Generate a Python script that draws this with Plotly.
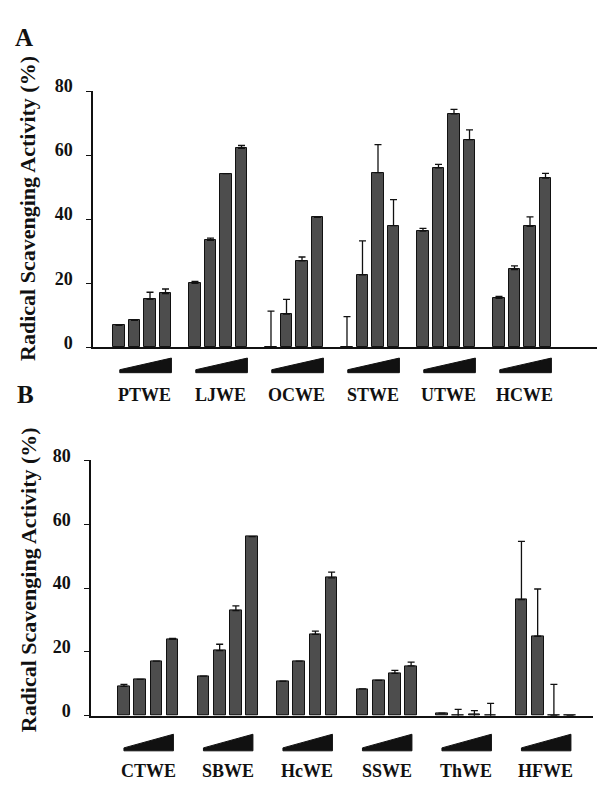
import plotly.graph_objects as go

# ---------------- data ----------------
groups_a = ["PTWE", "LJWE", "OCWE", "STWE", "UTWE", "HCWE"]
values_a = [
    [6.9, 8.4, 15.0, 16.8],
    [20.0, 33.4, 54.2, 62.1],
    [0.0, 10.4, 27.0, 40.6],
    [0.0, 22.6, 54.5, 38.0],
    [36.3, 56.0, 72.9, 64.8],
    [15.3, 24.3, 37.8, 52.8],
]
err_a = [
    [0.0, 0.0, 2.2, 1.4],
    [0.6, 0.7, 0.0, 0.9],
    [11.3, 4.6, 1.2, 0.0],
    [9.6, 10.6, 8.8, 8.1],
    [0.8, 1.1, 1.4, 3.1],
    [0.6, 1.1, 2.9, 1.5],
]
groups_b = ["CTWE", "SBWE", "HcWE", "SSWE", "ThWE", "HFWE"]
values_b = [
    [9.2, 11.4, 17.1, 23.9],
    [12.4, 20.4, 32.9, 56.1],
    [10.8, 17.1, 25.5, 43.2],
    [8.4, 11.1, 13.3, 15.6],
    [0.8, 0.0, 0.3, 0.0],
    [36.4, 24.9, 0.0, 0.0],
]
err_b = [
    [0.6, 0.0, 0.0, 0.3],
    [0.0, 2.0, 1.5, 0.0],
    [0.0, 0.0, 1.0, 1.8],
    [0.0, 0.0, 0.9, 1.2],
    [0.0, 2.0, 1.3, 3.9],
    [18.2, 14.8, 9.8, 0.0],
]
err_b_minus = [
    [0, 0, 0, 0],
    [0, 0, 0, 0],
    [0, 0, 0, 0],
    [0, 0, 0, 0],
    [0, 1.2, 0.6, 1.2],
    [0, 0, 0, 0],
]
yticks = [0, 20, 40, 60, 80]
y_title = "Radical Scavenging Activity (%)"

# ---------------- layout constants ----------------
W, H = 597, 787
PERIOD = 4.9
BAR_COLOR = "#4d4d4d"
FONT = "Liberation Serif, Times New Roman, serif"
INK = "#111111"


def px_x(p):
    return p / W


def px_y(p):
    return 1 - p / H


fig = go.Figure()


def add_panel(groups, vals, errs, errs_minus, xa, ya):
    xs, ys, ep, em = [], [], [], []
    for g, (v, e) in enumerate(zip(vals, errs)):
        for i in range(4):
            xs.append(g * PERIOD + i)
            ys.append(v[i])
            ep.append(e[i])
            em.append(errs_minus[g][i] if errs_minus else 0)
    fig.add_trace(go.Bar(
        x=xs, y=ys, width=0.72, xaxis=xa, yaxis=ya,
        marker=dict(color=BAR_COLOR, line=dict(color=INK, width=1)),
        error_y=dict(type="data", symmetric=False, array=ep, arrayminus=em,
                     color=INK, thickness=1.3, width=3.5),
        showlegend=False, hoverinfo="skip",
    ))


add_panel(groups_a, values_a, err_a, None, "x", "y")
add_panel(groups_b, values_b, err_b, err_b_minus, "x2", "y2")

axis_common = dict(showgrid=False, zeroline=False, showline=True,
                   linecolor=INK, linewidth=1.5)
yaxis_common = dict(axis_common, range=[0, 80], tickvals=yticks,
                    ticktext=[f"<b>{t}</b>" for t in yticks],
                    ticks="outside", ticklen=5, tickwidth=1.2, tickcolor=INK,
                    ticklabelstandoff=10, ticklabelshift=-5,
                    tickfont=dict(family=FONT, size=18, color=INK, weight="bold"))

fig.update_layout(
    width=W, height=H, margin=dict(l=0, r=0, t=0, b=0),
    paper_bgcolor="white", plot_bgcolor="white", bargap=0,
    xaxis=dict(axis_common, domain=[px_x(93), px_x(597)],
               range=[-1.676, 30.82], showticklabels=False, ticks="", anchor="y"),
    yaxis=dict(yaxis_common, domain=[px_y(341), px_y(78)], anchor="x"),
    xaxis2=dict(axis_common, domain=[px_x(91), px_x(593)],
                range=[-2.03, 28.91], showticklabels=False, ticks="", anchor="y2"),
    yaxis2=dict(yaxis_common, domain=[px_y(719), px_y(457)], anchor="x2"),
)

shapes, annotations = [], []


def add_wedges_labels(groups, xref, x0off, x1off, ybot, ytop, ytip, ylab, lab_off):
    for g, name in enumerate(groups):
        x0 = g * PERIOD + x0off
        x1 = g * PERIOD + x1off
        shapes.append(dict(
            type="path", xref=xref, yref="paper",
            path=f"M {x0},{px_y(ybot)} L {x1},{px_y(ybot)} L {x1},{px_y(ytop)} L {x0},{px_y(ytip)} Z",
            fillcolor=INK, line=dict(color=INK, width=1),
        ))
        annotations.append(dict(
            x=g * PERIOD + 1.5 + lab_off, y=px_y(ylab), xref=xref, yref="paper",
            text=f"<b>{name}</b>", showarrow=False, xanchor="center", yanchor="middle",
            font=dict(family=FONT, size=18, color=INK, weight="bold"),
        ))


add_wedges_labels(groups_a, "x", 0.05, 3.38, 367, 352, 364, 390, 0.15)
add_wedges_labels(groups_b, "x2", 0.0, 3.05, 755, 738, 752, 776, 0.0)

for yc in (199, 580):
    annotations.append(dict(
        x=px_x(28), y=px_y(yc), xref="paper", yref="paper", text=f"<b>{y_title}</b>",
        textangle=-90, showarrow=False, xanchor="center", yanchor="middle",
        font=dict(family=FONT, size=22, color=INK, weight="bold"),
    ))

for letter, (cx, cy) in (("A", (24, 23)), ("B", (25, 389))):
    annotations.append(dict(
        x=px_x(cx), y=px_y(cy), xref="paper", yref="paper", text=f"<b>{letter}</b>",
        showarrow=False, xanchor="center", yanchor="middle",
        font=dict(family=FONT, size=25, color=INK, weight="bold"),
    ))

fig.update_layout(shapes=shapes, annotations=annotations)
fig.write_html("out.html")
